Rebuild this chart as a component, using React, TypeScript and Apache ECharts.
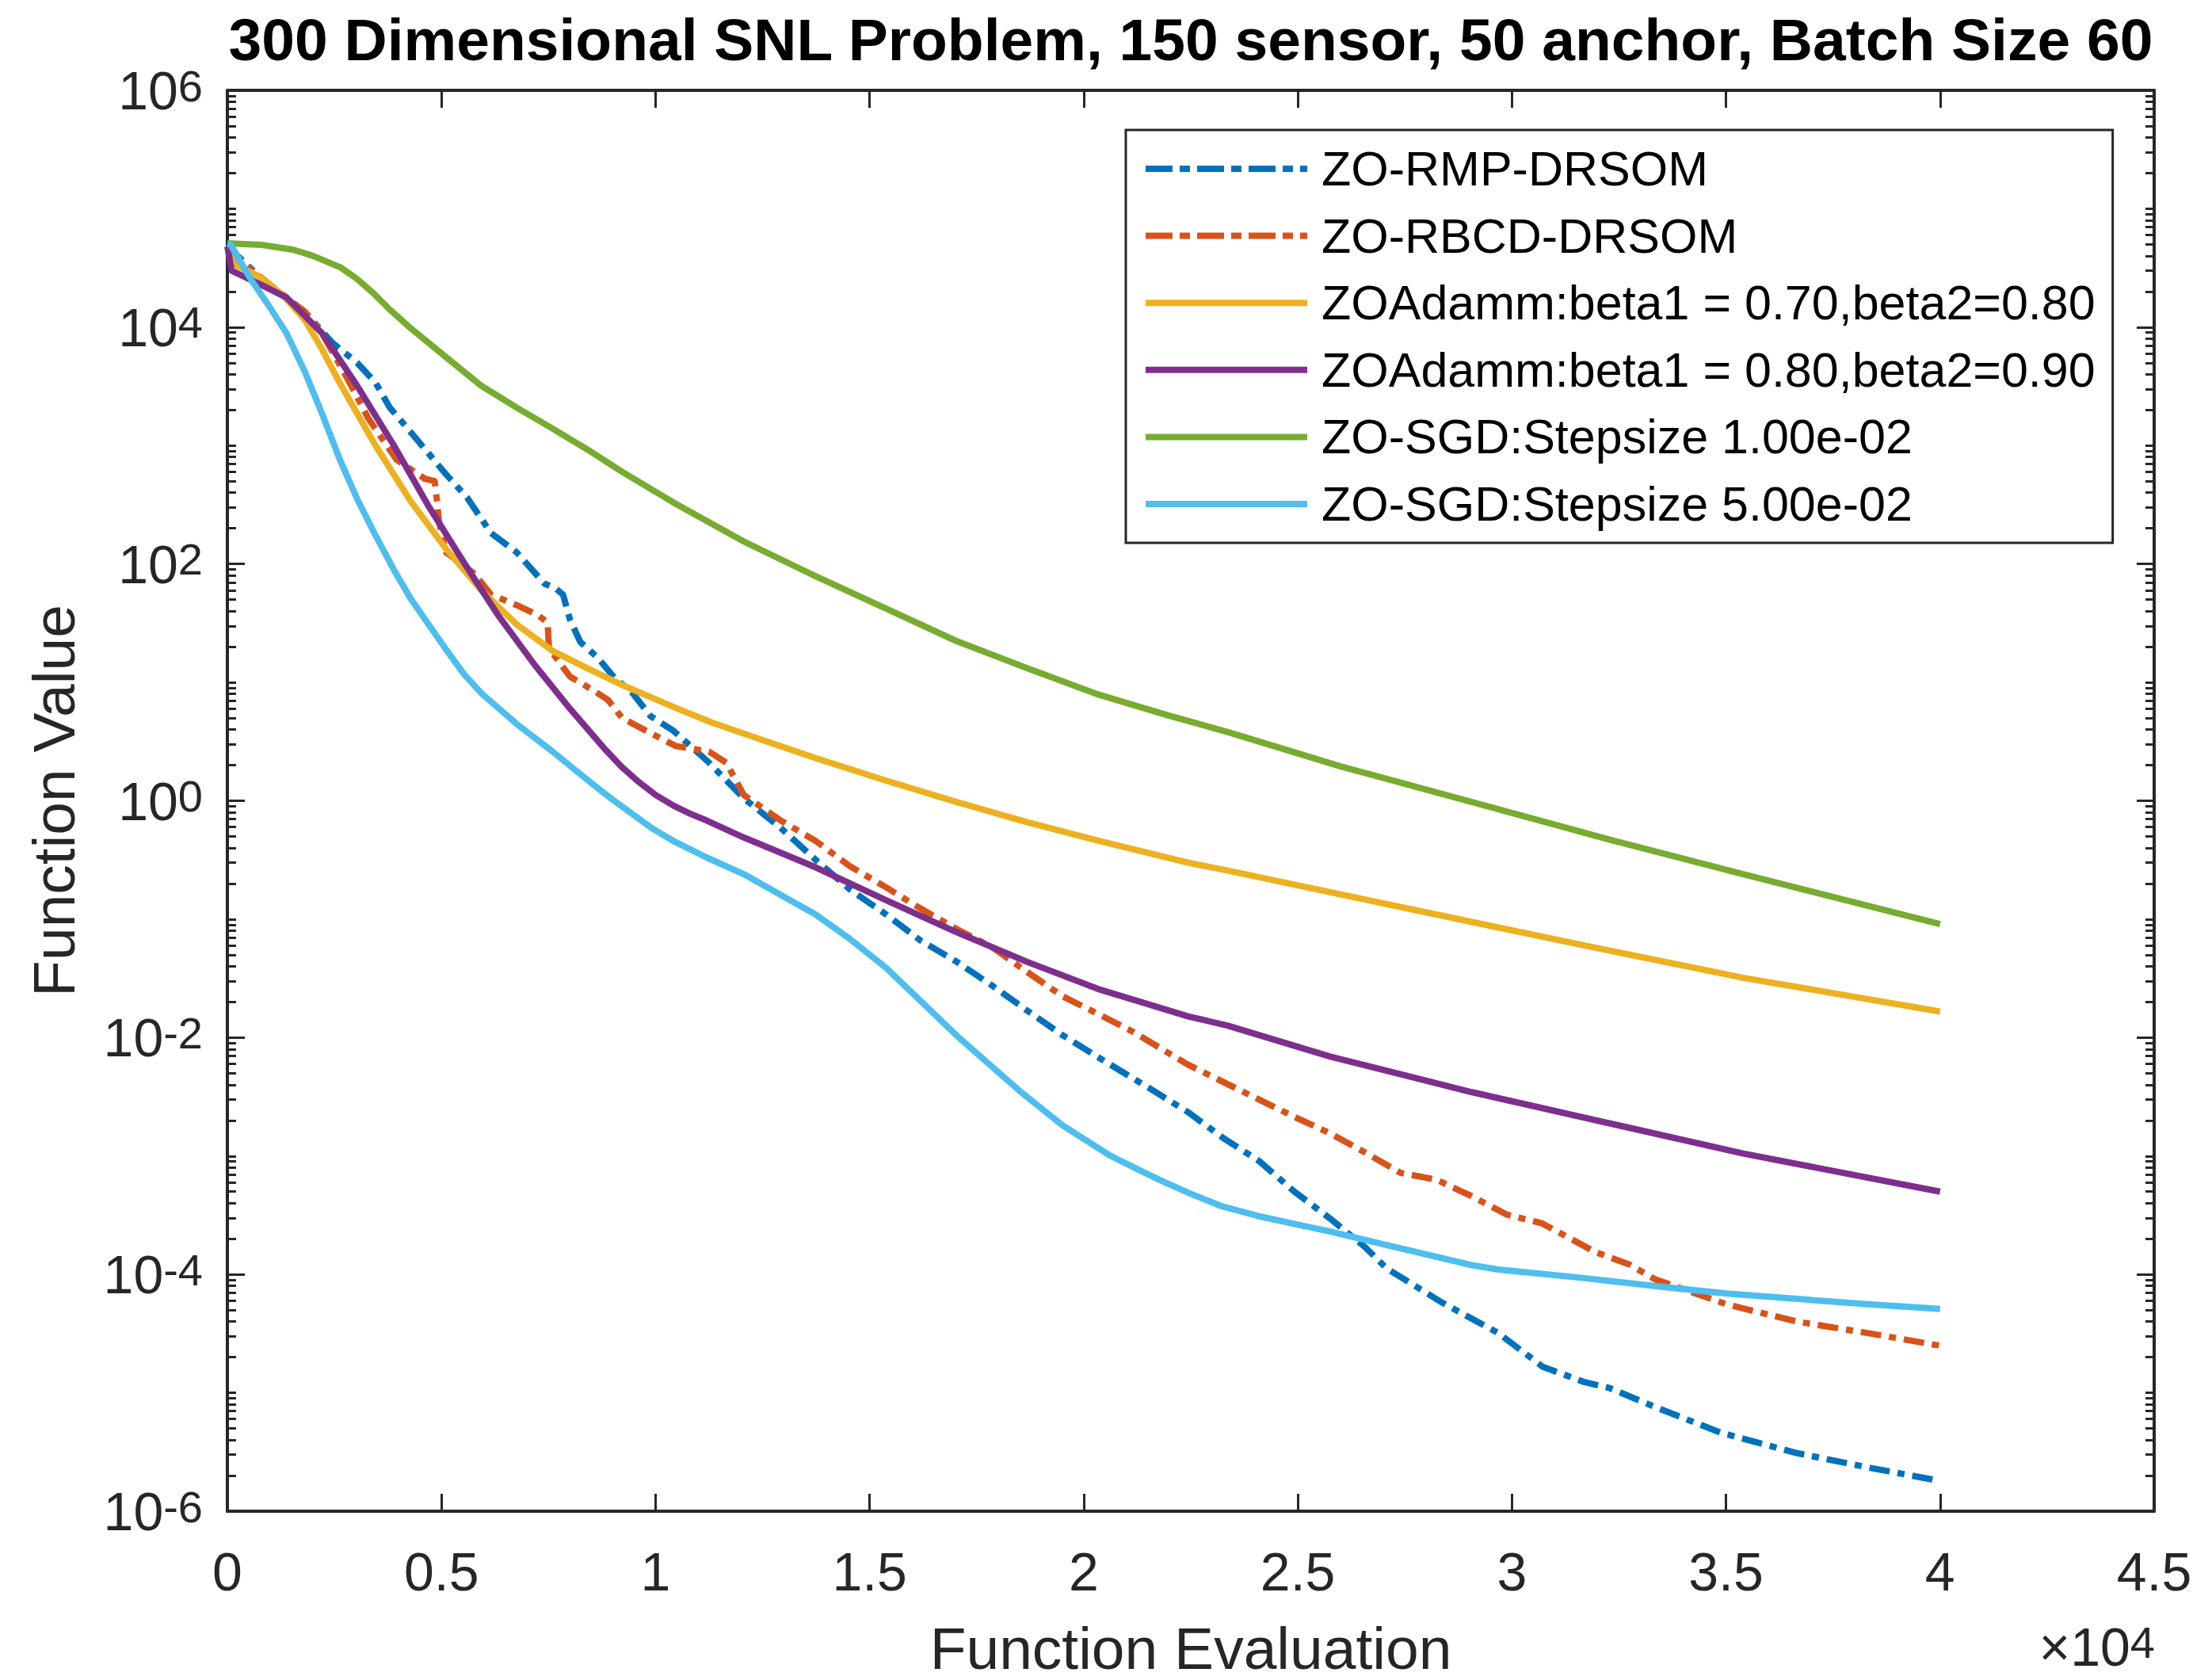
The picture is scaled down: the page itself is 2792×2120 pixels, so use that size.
import React, { useEffect, useRef } from 'react';
import * as echarts from 'echarts';

// ---------- texts ----------
const TITLE = '300 Dimensional SNL Problem, 150 sensor, 50 anchor, Batch Size 60';
const X_NAME = 'Function Evaluation';
const Y_NAME = 'Function Value';
const X_EXPONENT = '4';

// ---------- axes ----------
const xMin = 0;
const xMax = 45000;
const xStep = 5000;
const xScale = 10000; // tick labels are shown in units of 10^4
const yExpMin = -6;
const yExpMax = 6;
const yExpStep = 2;
const minorMantissas = [2, 3, 4, 5, 6, 7, 8, 9];

// ---------- series ----------
const seriesNames = [
  'ZO-RMP-DRSOM',
  'ZO-RBCD-DRSOM',
  'ZOAdamm:beta1 = 0.70,beta2=0.80',
  'ZOAdamm:beta1 = 0.80,beta2=0.90',
  'ZO-SGD:Stepsize 1.00e-02',
  'ZO-SGD:Stepsize 5.00e-02',
];
const seriesColors = ['#0072BD', '#D95319', '#EDB120', '#7E2F8E', '#77AC30', '#4DBEEE'];

const rmpX = [0, 950, 1800, 2450, 3030, 3460, 3790, 4280, 5100, 5600, 6160, 6750, 7410, 7650, 7840, 8000, 8240, 8660, 9060, 9420, 9880, 10420, 11250, 12060, 12900, 13730, 14540, 15380, 16190, 17020, 17860, 18670, 19500, 20590, 21500, 22440, 23280, 24090, 24920, 25760, 26570, 27080, 28380, 29680, 30720, 31700, 32270, 33340, 34880, 36650, 37470, 38300, 40000];
const rmpY = [4.8e4, 2.3e4, 1.35e4, 7.4e3, 5.0e3, 3.4e3, 2.1e3, 1.3e3, 575, 363, 182, 126, 68, 63, 55, 34, 22, 16, 10.7, 8.5, 5.2, 3.9, 2.1, 1.05, 0.6, 0.32, 0.178, 0.11, 0.066, 0.044, 0.0275, 0.017, 0.0105, 0.006, 0.0038, 0.00234, 0.0014, 9.1e-4, 5.0e-4, 2.95e-4, 1.7e-4, 1.12e-4, 5.75e-5, 3.2e-5, 1.66e-5, 1.23e-5, 1.1e-5, 7.6e-6, 4.6e-6, 3.1e-6, 2.7e-6, 2.35e-6, 1.8e-6];

const rbcdX = [0, 150, 950, 1810, 2210, 2800, 3290, 3950, 4610, 4840, 4900, 4940, 5100, 5760, 6160, 6750, 7250, 7480, 7510, 8000, 8560, 8890, 9220, 9720, 10470, 11250, 11650, 12060, 12900, 13730, 14540, 15380, 16190, 17020, 17860, 18670, 19500, 20340, 21150, 21980, 22440, 24090, 24920, 25760, 26570, 27400, 28240, 29050, 29880, 30700, 31120, 31940, 32770, 33340, 35010, 36650, 38300, 40000];
const rbcdY = [4.8e4, 4.0e4, 2.35e4, 1.35e4, 8.9e3, 3.7e3, 1.7e3, 760, 525, 500, 330, 230, 126, 83, 55, 45, 37, 32, 19.5, 11.2, 8.5, 7.1, 5.0, 4.0, 2.9, 2.6, 2.1, 1.12, 0.69, 0.46, 0.28, 0.186, 0.123, 0.083, 0.058, 0.036, 0.0224, 0.0158, 0.0112, 0.0074, 0.0059, 0.003, 0.00214, 0.00155, 0.00107, 7.2e-4, 6.3e-4, 4.6e-4, 3.2e-4, 2.7e-4, 2.24e-4, 1.55e-4, 1.2e-4, 9.1e-5, 5.6e-5, 4.0e-5, 3.2e-5, 2.5e-5];

const adam1X = [0, 150, 730, 1300, 1810, 2200, 2640, 3460, 4280, 5100, 5930, 6750, 7580, 8400, 9220, 10420, 11300, 12250, 13730, 15380, 17020, 18670, 20340, 22440, 23370, 26000, 29050, 31700, 35400, 40000];
const adam1Y = [4.8e4, 3.4e4, 2.7e4, 1.86e4, 1.15e4, 6.6e3, 3.3e3, 1.0e3, 339, 135, 60, 31, 18.6, 13.2, 9.5, 6.2, 4.6, 3.5, 2.3, 1.48, 0.98, 0.66, 0.46, 0.3, 0.257, 0.162, 0.095, 0.06, 0.032, 0.0166];

const adam2X = [0, 100, 560, 1380, 2210, 3030, 3890, 4680, 5530, 6320, 7180, 8000, 8830, 9200, 9600, 10000, 10420, 10800, 11200, 12060, 13730, 15380, 17020, 18670, 20340, 22440, 23370, 25760, 29050, 32360, 35400, 40000];
const adam2Y = [4.8e4, 3.0e4, 2.5e4, 1.78e4, 8.9e3, 3.2e3, 1.0e3, 316, 102, 37, 14, 6.0, 2.7, 1.95, 1.45, 1.12, 0.91, 0.78, 0.68, 0.49, 0.275, 0.145, 0.078, 0.0437, 0.0257, 0.0151, 0.0126, 0.0069, 0.00347, 0.00186, 0.00105, 5.0e-4];

const sgd1X = [0, 800, 1550, 2000, 2640, 3000, 3400, 3800, 4280, 5100, 5930, 6750, 7580, 8400, 9220, 10420, 12060, 13730, 15380, 17020, 18670, 20340, 21980, 23370, 26000, 29050, 32000, 35400, 40000];
const sgd1Y = [5.1e4, 4.95e4, 4.5e4, 4.0e4, 3.2e4, 2.6e4, 1.95e4, 1.4e4, 9.8e3, 5.6e3, 3.2e3, 2.1e3, 1.4e3, 930, 600, 330, 155, 79, 42, 22.4, 13.2, 7.9, 5.25, 3.8, 1.95, 0.98, 0.5, 0.24, 0.091];

const sgd2X = [0, 70, 560, 950, 1380, 1810, 2210, 2640, 3030, 3460, 3890, 4280, 4680, 5100, 5530, 5930, 6750, 7580, 8500, 9000, 9950, 10420, 11200, 12060, 13730, 14550, 15380, 17020, 18500, 19500, 20590, 21300, 21890, 22500, 23190, 24090, 25000, 25760, 27400, 29050, 29680, 31700, 33580, 35010, 38300, 40000];
const sgd2Y = [5.1e4, 5.0e4, 2.5e4, 1.55e4, 8.9e3, 4.2e3, 1.86e3, 741, 355, 174, 89, 51, 31.6, 19.1, 11.7, 8.1, 4.47, 2.63, 1.41, 1.02, 0.575, 0.457, 0.331, 0.24, 0.11, 0.0676, 0.039, 0.0105, 0.00355, 0.00182, 0.00102, 7.6e-4, 6.0e-4, 4.8e-4, 3.8e-4, 3.1e-4, 2.63e-4, 2.3e-4, 1.66e-4, 1.2e-4, 1.1e-4, 9.3e-5, 7.8e-5, 6.9e-5, 5.6e-5, 5.1e-5];

const seriesXs = [rmpX, rbcdX, adam1X, adam2X, sgd1X, sgd2X];
const seriesYs = [rmpY, rbcdY, adam1Y, adam2Y, sgd1Y, sgd2Y];
const seriesDashed = [true, true, false, false, false, false];

// ---------- style ----------
const AXIS_COLOR = '#262626';
const FONT = "'Liberation Sans', Arial, Helvetica, sans-serif";
const W = 2792;
const H = 2120;
const LINE_W = 8;
const DASH_PLOT = [26, 10, 9, 10];
const DASH_LEGEND = [34, 9, 13, 9];

export default function App() {
  const ref = useRef<HTMLDivElement>(null);

  useEffect(() => {
    const el = ref.current;
    if (!el) return;
    const chart = echarts.init(el, null, { renderer: 'svg', width: W, height: H });

    // minor ticks of the log axis (positions in exponent space)
    const minorTicks: number[] = [];
    for (let k = yExpMin; k < yExpMax; k++) {
      if ((k - yExpMin) % yExpStep !== 0) minorTicks.push(k);
      for (const m of minorMantissas) minorTicks.push(k + Math.log10(m));
    }

    const supRich = {
      b: { fontSize: 68, lineHeight: 68, padding: [23, 0, 0, 0], verticalAlign: 'bottom', color: AXIS_COLOR, fontFamily: FONT },
      s: { fontSize: 56, lineHeight: 56, verticalAlign: 'top', color: AXIS_COLOR, fontFamily: FONT },
    };

    const lineStyleAxis = { color: AXIS_COLOR, width: 4 };
    const tickStyle = { color: AXIS_COLOR, width: 3 };

    const xAxisBase = {
      type: 'value',
      min: xMin,
      max: xMax,
      interval: xStep,
      splitLine: { show: false },
      axisLine: { show: true, onZero: false, lineStyle: lineStyleAxis },
      axisTick: { show: true, inside: true, length: 22, lineStyle: tickStyle },
    };

    const yAxisBase = {
      type: 'value',
      min: yExpMin,
      max: yExpMax,
      interval: yExpStep,
      splitLine: { show: false },
      axisLine: { show: true, onZero: false, lineStyle: lineStyleAxis },
      axisTick: { show: true, inside: true, length: 22, lineStyle: tickStyle },
    };

    const yMinorBase = {
      type: 'value',
      min: yExpMin,
      max: yExpMax,
      splitLine: { show: false },
      axisLine: { show: false, onZero: false },
      axisLabel: { show: false },
      axisTick: { show: true, inside: true, length: 11, lineStyle: tickStyle, customValues: minorTicks },
    };

    const series = seriesNames.map((name, i) => ({
      type: 'line',
      name,
      xAxisIndex: 0,
      yAxisIndex: 0,
      data: seriesXs[i].map((x, j) => [x, Math.log10(seriesYs[i][j])]),
      showSymbol: false,
      symbol: 'none',
      smooth: false,
      clip: true,
      silent: true,
      z: 2 + i,
      itemStyle: { color: seriesColors[i] },
      lineStyle: {
        color: seriesColors[i],
        width: LINE_W,
        type: seriesDashed[i] ? DASH_PLOT : 'solid',
        cap: 'butt',
        join: 'round',
      },
    }));

    const legendData = seriesNames.map((name, i) => ({
      name,
      lineStyle: {
        color: seriesColors[i],
        width: LINE_W,
        type: seriesDashed[i] ? DASH_LEGEND : 'solid',
      },
    }));

    const option: any = {
      animation: false,
      backgroundColor: '#ffffff',
      textStyle: { fontFamily: FONT },
      title: {
        text: TITLE,
        left: 1503,
        top: 12,
        textAlign: 'center',
        padding: 0,
        textStyle: { fontSize: 75, fontWeight: 'bold', color: '#000000', fontFamily: FONT, lineHeight: 75 },
      },
      grid: { left: 287, top: 114, width: 2432, height: 1793, containLabel: false, outerBoundsMode: 'none' },
      legend: {
        show: true,
        orient: 'vertical',
        left: 1421,
        top: 164,
        padding: [18, 22, 18, 21],
        itemWidth: 204,
        itemHeight: 4,
        itemGap: 22.6,
        backgroundColor: '#ffffff',
        borderColor: AXIS_COLOR,
        borderWidth: 3,
        borderRadius: 0,
        selectedMode: false,
        itemStyle: { opacity: 0 },
        lineStyle: { width: LINE_W },
        data: legendData,
        textStyle: { fontSize: 61, lineHeight: 62, color: '#000000', fontFamily: FONT, padding: [0, 0, 0, 13] },
      },
      xAxis: [
        {
          ...xAxisBase,
          position: 'bottom',
          axisLabel: {
            margin: 42,
            fontSize: 68,
            lineHeight: 68,
            color: AXIS_COLOR,
            fontFamily: FONT,
            formatter: (v: number) => String(v / xScale),
          },
          name: X_NAME,
          nameLocation: 'middle',
          nameGap: 135,
          nameTextStyle: { fontSize: 75, lineHeight: 75, color: AXIS_COLOR, fontFamily: FONT },
        },
        { ...xAxisBase, position: 'top', axisLabel: { show: false } },
      ],
      yAxis: [
        {
          ...yAxisBase,
          position: 'left',
          axisLabel: {
            margin: 31,
            color: AXIS_COLOR,
            fontFamily: FONT,
            formatter: (v: number) => `{b|10}{s|${v}}`,
            rich: supRich,
          },
          name: Y_NAME,
          nameLocation: 'middle',
          nameRotate: 90,
          nameGap: 182,
          nameTextStyle: { fontSize: 75, lineHeight: 75, color: AXIS_COLOR, fontFamily: FONT },
        },
        { ...yAxisBase, position: 'right', axisLabel: { show: false } },
        { ...yMinorBase, position: 'left' },
        { ...yMinorBase, position: 'right' },
      ],
      graphic: [
        {
          type: 'text',
          right: 72,
          bottom: 8,
          silent: true,
          style: {
            text: `{b|×10}{s|${X_EXPONENT}}`,
            fill: AXIS_COLOR,
            fontSize: 68,
            fontFamily: FONT,
            rich: supRich,
          },
        },
      ],
      series,
    };

    chart.setOption(option);
    return () => chart.dispose();
  }, []);

  return (
    <div
      ref={ref}
      style={{ position: 'fixed', left: 0, top: 0, width: W, height: H, background: '#ffffff' }}
    />
  );
}
